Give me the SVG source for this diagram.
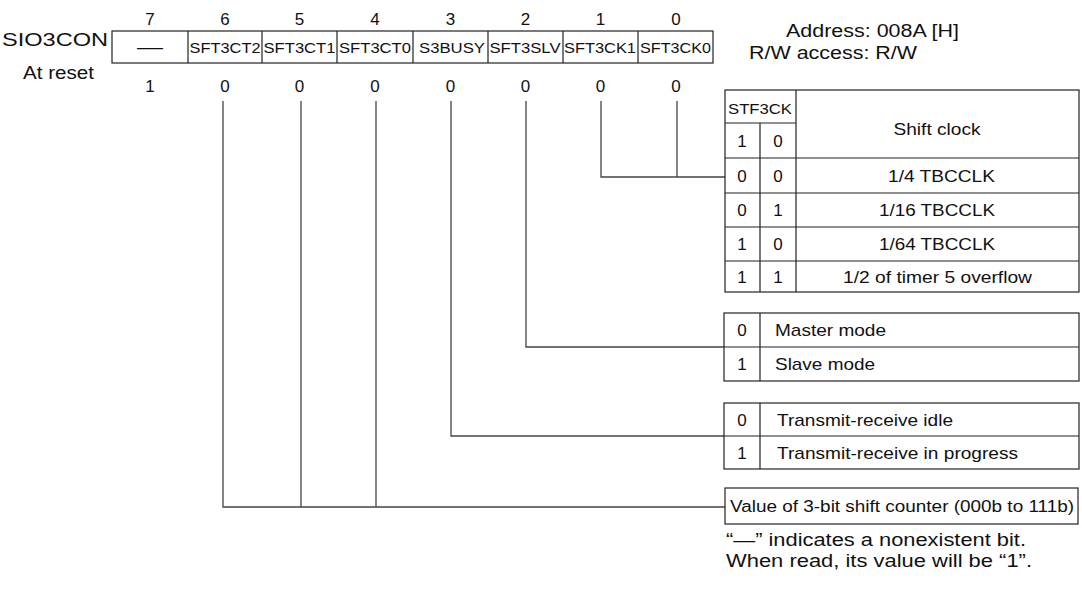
<svg xmlns="http://www.w3.org/2000/svg" width="1082" height="593" viewBox="0 0 1082 593">
<style>
text{font-family:"Liberation Sans",Arial,sans-serif;fill:#111}
.b{stroke:#222;stroke-width:1.2;fill:none}
.c{stroke:#444;stroke-width:1.3;fill:none}
.n{font-size:17px;text-anchor:middle}
.r{font-size:14.5px}
.t{font-size:17px}
</style>
<rect width="1082" height="593" fill="#fff"/>
<g id="register">
<text x="2" y="46" style="font-size:18px" textLength="106" lengthAdjust="spacingAndGlyphs">SIO3CON</text>
<text x="23" y="79" style="font-size:17.5px" textLength="71" lengthAdjust="spacingAndGlyphs">At reset</text>
<g class="n">
<text x="150" y="25">7</text><text x="225" y="25">6</text><text x="299.5" y="25">5</text><text x="375" y="25">4</text>
<text x="450.5" y="25">3</text><text x="525.5" y="25">2</text><text x="600.5" y="25">1</text><text x="676" y="25">0</text>
<text x="150" y="92">1</text><text x="225" y="92">0</text><text x="299.5" y="92">0</text><text x="375" y="92">0</text>
<text x="450.5" y="92">0</text><text x="525.5" y="92">0</text><text x="600.5" y="92">0</text><text x="676" y="92">0</text>
</g>
<rect class="b" x="112" y="31" width="601" height="32"/>
<path class="b" d="M188 31V63M262 31V63M337 31V63M413 31V63M488 31V63M563 31V63M638 31V63"/>
<text x="137" y="53" class="t" textLength="26" lengthAdjust="spacingAndGlyphs">—</text>
<text x="189.5" y="53" class="r" textLength="71" lengthAdjust="spacingAndGlyphs">SFT3CT2</text>
<text x="263.5" y="53" class="r" textLength="72" lengthAdjust="spacingAndGlyphs">SFT3CT1</text>
<text x="339" y="53" class="r" textLength="72" lengthAdjust="spacingAndGlyphs">SFT3CT0</text>
<text x="419" y="53" class="r" textLength="66" lengthAdjust="spacingAndGlyphs">S3BUSY</text>
<text x="489.5" y="53" class="r" textLength="71" lengthAdjust="spacingAndGlyphs">SFT3SLV</text>
<text x="564" y="53" class="r" textLength="72" lengthAdjust="spacingAndGlyphs">SFT3CK1</text>
<text x="640" y="53" class="r" textLength="71" lengthAdjust="spacingAndGlyphs">SFT3CK0</text>
</g>
<g id="address">
<text x="786" y="37" style="font-size:17.5px" textLength="173" lengthAdjust="spacingAndGlyphs">Address: 008A [H]</text>
<text x="749" y="59" style="font-size:17.5px" textLength="168" lengthAdjust="spacingAndGlyphs">R/W access: R/W</text>
</g>
<g id="connectors">
<path class="c" d="M677 101V177"/>
<path class="c" d="M601 101V177H725"/>
<path class="c" d="M526 101V347H724"/>
<path class="c" d="M451 101V436H724"/>
<path class="c" d="M376 101V507"/>
<path class="c" d="M301 101V507"/>
<path class="c" d="M223 101V507H725"/>
</g>
<g id="shift-clock-table">
<rect class="b" x="725" y="90" width="354" height="202"/>
<path class="b" d="M796 90V292M760 123V292M725 123H796M725 158H1079M725 193H1079M725 227H1079M725 261H1079"/>
<text x="728" y="114" style="font-size:14.5px" textLength="64" lengthAdjust="spacingAndGlyphs">STF3CK</text>
<g class="n">
<text x="742" y="147">1</text><text x="778" y="147">0</text>
<text x="742" y="182">0</text><text x="778" y="182">0</text>
<text x="742" y="216">0</text><text x="778" y="216">1</text>
<text x="742" y="250">1</text><text x="778" y="250">0</text>
<text x="742" y="283">1</text><text x="778" y="283">1</text>
</g>
<text x="893.5" y="135" class="t" textLength="87" lengthAdjust="spacingAndGlyphs">Shift clock</text>
<text x="888" y="182" class="t" textLength="107" lengthAdjust="spacingAndGlyphs">1/4 TBCCLK</text>
<text x="879" y="216" class="t" textLength="116" lengthAdjust="spacingAndGlyphs">1/16 TBCCLK</text>
<text x="879" y="250" class="t" textLength="116" lengthAdjust="spacingAndGlyphs">1/64 TBCCLK</text>
<text x="843" y="283" class="t" textLength="189" lengthAdjust="spacingAndGlyphs">1/2 of timer 5 overflow</text>
</g>
<g id="mode-table">
<rect class="b" x="724" y="313" width="355" height="68"/>
<path class="b" d="M760 313V381M724 347H1079"/>
<text x="742" y="336" class="n">0</text><text x="742" y="370" class="n">1</text>
<text x="775" y="336" class="t" textLength="111" lengthAdjust="spacingAndGlyphs">Master mode</text>
<text x="775" y="370" class="t" textLength="100" lengthAdjust="spacingAndGlyphs">Slave mode</text>
</g>
<g id="busy-table">
<rect class="b" x="724" y="403" width="355" height="66"/>
<path class="b" d="M760 403V469M724 436H1079"/>
<text x="742" y="426" class="n">0</text><text x="742" y="459" class="n">1</text>
<text x="777" y="426" class="t" textLength="176" lengthAdjust="spacingAndGlyphs">Transmit-receive idle</text>
<text x="777" y="459" class="t" textLength="241" lengthAdjust="spacingAndGlyphs">Transmit-receive in progress</text>
</g>
<g id="counter-box">
<rect class="b" x="725" y="488" width="353" height="36"/>
<text x="730" y="512" style="font-size:16px" textLength="344" lengthAdjust="spacingAndGlyphs">Value of 3-bit shift counter (000b to 111b)</text>
</g>
<g id="note">
<text x="726" y="546" style="font-size:17.5px" textLength="300" lengthAdjust="spacingAndGlyphs">“—” indicates a nonexistent bit.</text>
<text x="726" y="567" style="font-size:17.5px" textLength="306" lengthAdjust="spacingAndGlyphs">When read, its value will be “1”.</text>
</g>
</svg>
